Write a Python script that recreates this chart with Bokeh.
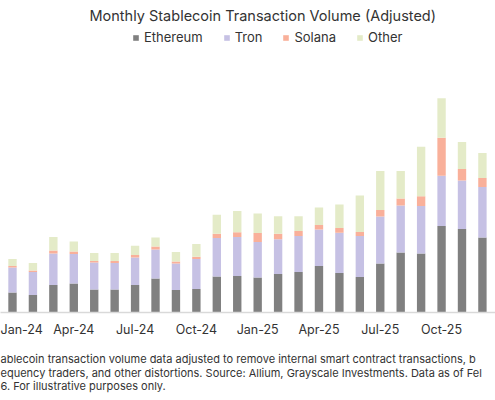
from bokeh.plotting import figure
from bokeh.models import ColumnDataSource, Range1d, FixedTicker, Title
from bokeh.embed import file_html
from bokeh.resources import INLINE

months = ["Jan-24", "Feb-24", "Mar-24", "Apr-24", "May-24", "Jun-24",
          "Jul-24", "Aug-24", "Sep-24", "Oct-24", "Nov-24", "Dec-24",
          "Jan-25", "Feb-25", "Mar-25", "Apr-25", "May-25", "Jun-25",
          "Jul-25", "Aug-25", "Sep-25", "Oct-25", "Nov-25", "Dec-25"]
ethereum = [100, 87, 138, 145, 115, 115, 137, 170, 112, 117, 180, 183,
            175, 193, 203, 232, 197, 177, 245, 300, 295, 432, 418, 375]
tron = [125, 115, 157, 148, 135, 132, 138, 145, 133, 150, 192, 195,
        177, 173, 180, 183, 202, 205, 235, 235, 238, 252, 242, 252]
solana = [8, 8, 15, 12, 8, 10, 12, 15, 10, 12, 22, 23,
          45, 28, 25, 23, 23, 20, 32, 35, 48, 190, 58, 45]
other = [35, 37, 67, 50, 40, 40, 47, 45, 47, 63, 95, 107,
         98, 87, 73, 87, 118, 183, 195, 137, 248, 197, 135, 125]
series = ["Ethereum", "Tron", "Solana", "Other"]
colors = ["#808080", "#c6c1e4", "#f9b09a", "#e4ebc8"]
tick_labels = ["Jan-24", "Apr-24", "Jul-24", "Oct-24", "Jan-25",
               "Apr-25", "Jul-25", "Oct-25", "Jan-26"]
title_text = "Monthly Stablecoin Transaction Volume (Adjusted)"
notes = ["ablecoin transaction volume data adjusted to remove internal smart contract transactions, b",
         "equency traders, and other distortions. Source: Allium, Grayscale Investments. Data as of Fel",
         "6. For illustrative purposes only."]

FONT = "Inter"
x = list(range(len(months)))
source = ColumnDataSource(dict(x=x, Ethereum=ethereum, Tron=tron,
                               Solana=solana, Other=other))

p = figure(width=495, height=400, output_backend="svg", toolbar_location=None,
           x_range=Range1d(-0.587, 23.64), y_range=Range1d(0, 1445),
           y_axis_location=None, min_border_left=0, min_border_right=0,
           min_border_top=23, min_border_bottom=88)
p.title.text = title_text
p.title.align = "left"
p.title.offset = 89
p.title.text_font = FONT
p.title.text_font_size = "14.5px"
p.title.text_font_style = "normal"
p.title.text_color = "#333333"
p.title.standoff = 0

p.vbar_stack(series, x="x", width=0.41, color=colors, line_color=None,
             source=source, legend_label=series)

p.xgrid.visible = False
p.ygrid.visible = False
p.outline_line_color = None

ticks = [months.index(t) if t in months else len(months) for t in tick_labels]
xa = p.xaxis[0]
xa.ticker = FixedTicker(ticks=ticks)
xa.major_label_overrides = {t: l for t, l in zip(ticks, tick_labels)}
xa.axis_line_color = "#d9d9d9"
xa.axis_line_width = 1.5
xa.major_tick_line_color = None
xa.minor_tick_line_color = None
xa.major_label_standoff = 3
xa.major_label_text_font = FONT
xa.major_label_text_font_size = "12.5px"
xa.major_label_text_color = "#333333"
# blank axis label used only as a gap above the footnote
xa.axis_label = " "
xa.axis_label_text_font_size = "1px"
xa.axis_label_standoff = 7

p.add_layout(Title(text="\n".join(notes), align="left", text_font=FONT,
                   text_font_size="11px", text_font_style="normal",
                   text_line_height=0.97, text_color="#333333",
                   standoff=0), "below")

lg = p.legend[0]
lg.orientation = "horizontal"
lg.location = (132, 267)
lg.glyph_width = 7
lg.glyph_height = 7
lg.label_standoff = 5
lg.spacing = 20
lg.padding = 0
lg.margin = 0
lg.border_line_color = None
lg.background_fill_alpha = 0
lg.label_text_font = FONT
lg.label_text_font_size = "13px"
lg.label_text_color = "#333333"
lg.label_height = 14

open("out.html", "w").write(file_html(p, INLINE))
